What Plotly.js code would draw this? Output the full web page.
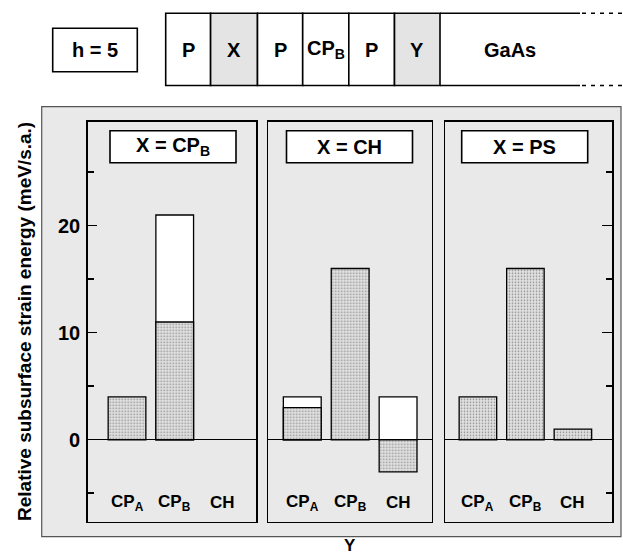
<!DOCTYPE html>
<html>
<head>
<meta charset="utf-8">
<script src="https://cdn.plot.ly/plotly-3.0.1.min.js"></script>
<style>html,body{margin:0;padding:0;background:#fff;}</style>
</head>
<body>
<div id="chart" style="width:623px;height:555px;"></div>
<script>
// ---- data ----
const categories = ['CP<sub>A</sub>', 'CP<sub>B</sub>', 'CH'];
const panelTitles = ['X = CP<sub>B</sub>', 'X = CH', 'X = PS'];
// shaded (grey) bars
const shadedCPB = [4, 11, null];
const shadedCH  = [3, 16, -3];
const shadedPS  = [4, 16, 1];
// open (white) bars behind the shaded ones
const openCPB = [null, 21, null];
const openCH  = [4, null, 4];
const openPS  = [null, null, null];
const yTickVals = [0, 10, 20];
const layerLabels = ['P', 'X', 'P', 'CP<sub>B</sub>', 'P', 'Y', 'GaAs'];
const layerShaded = [false, true, false, false, false, true, false];
const hLabel = 'h = 5';
const yTitle = 'Relative subsurface strain energy (meV/s.a.)';
const xTitle = 'Y';

// ---- geometry helpers ----
const W = 623, H = 555;
const px = x => x / W;
const py = y => 1 - y / H;
const FONT = 'Liberation Sans, Arial, Helvetica, sans-serif';
const bold = (size) => ({family: FONT, size: size, color: '#000', weight: 'bold'});

const shadeFill = '#d6d6d6';
const pattern = {shape: '.', fgcolor: '#8a8a8a', bgcolor: '#e2e2e2', size: 3, solidity: 0.25};

const panels = [
  {open: openCPB, shaded: shadedCPB, xa: 'x',  ya: 'y'},
  {open: openCH,  shaded: shadedCH,  xa: 'x2', ya: 'y2'},
  {open: openPS,  shaded: shadedPS,  xa: 'x3', ya: 'y3'}
];

const traces = [];
panels.forEach(p => {
  traces.push({type: 'bar', x: categories, y: p.open, xaxis: p.xa, yaxis: p.ya, width: 0.79,
    marker: {color: '#ffffff', line: {color: '#000', width: 1.3}}, hoverinfo: 'skip'});
  traces.push({type: 'bar', x: categories, y: p.shaded, xaxis: p.xa, yaxis: p.ya, width: 0.79,
    marker: {color: shadeFill, pattern: pattern, line: {color: '#000', width: 1.3}}, hoverinfo: 'skip'});
});

const yRange = [-7.66, 29.72];
const yDomain = [py(521.7), py(121.7)];
const xBase = {type: 'category', showticklabels: false, ticks: '', showgrid: false, zeroline: false,
  showline: true, mirror: true, linecolor: '#000', linewidth: 1.5, fixedrange: true};
const yBase = {range: yRange, domain: yDomain, showgrid: false, zeroline: true, zerolinecolor: '#000',
  zerolinewidth: 1.3, showline: true, mirror: true, linecolor: '#000', linewidth: 1.5, fixedrange: true};

const layout = {
  width: W, height: H, margin: {l: 0, r: 0, t: 0, b: 0},
  paper_bgcolor: '#fff', plot_bgcolor: '#fff', showlegend: false, barmode: 'overlay',
  xaxis:  Object.assign({}, xBase, {domain: [px(87.7), px(256.3)], range: [-0.824, 2.71], anchor: 'y'}),
  xaxis2: Object.assign({}, xBase, {domain: [px(268.3), px(431.9)], range: [-0.709, 2.706], anchor: 'y2'}),
  xaxis3: Object.assign({}, xBase, {domain: [px(445), px(612)], range: [-0.693, 2.823], anchor: 'y3'}),
  yaxis: Object.assign({}, yBase, {anchor: 'x', ticks: 'inside', ticklen: 9, tickwidth: 1.5, tickcolor: '#000',
    tickmode: 'array', tickvals: yTickVals, tickfont: bold(20), ticklabelstandoff: 2,
    minor: {tickmode: 'linear', tick0: -5, dtick: 5, ticks: 'inside', ticklen: 6, tickwidth: 1.5, tickcolor: '#000'}}),
  yaxis2: Object.assign({}, yBase, {anchor: 'x2', ticks: '', showticklabels: false}),
  yaxis3: Object.assign({}, yBase, {anchor: 'x3', side: 'right', ticks: 'inside', ticklen: 10, tickwidth: 1.5,
    tickcolor: '#000', tickmode: 'array', tickvals: yTickVals, showticklabels: false,
    minor: {tickmode: 'linear', tick0: -5, dtick: 5, ticks: 'inside', ticklen: 6, tickwidth: 1.5, tickcolor: '#000'}}),
  shapes: [],
  annotations: []
};

// grey background panel
layout.shapes.push({type: 'rect', xref: 'paper', yref: 'paper', layer: 'below',
  x0: px(41.7), x1: px(621), y0: py(536.7), y1: py(106.7),
  fillcolor: '#e9e9e9', line: {color: '#555', width: 1.2}});

// top layer diagram
const cellEdges = [165.7, 210.6, 257.5, 302.7, 348.8, 394.5, 440, 580];
const stripTop = 13.3, stripBot = 85.5;
for (let i = 0; i < layerLabels.length; i++) {
  const x0 = cellEdges[i], x1 = cellEdges[i + 1];
  if (i < layerLabels.length - 1) {
    layout.shapes.push({type: 'rect', xref: 'paper', yref: 'paper', x0: px(x0), x1: px(x1),
      y0: py(stripBot), y1: py(stripTop), fillcolor: layerShaded[i] ? '#e4e4e4' : '#fff',
      line: {color: '#000', width: 1.6}});
  }
  layout.annotations.push({xref: 'paper', yref: 'paper', x: px((x0 + x1) / 2), y: py(50),
    text: layerLabels[i], showarrow: false, font: bold(20), xanchor: 'center', yanchor: 'middle'});
}
// GaAs open cell: solid lines then dotted continuation
[stripTop, stripBot].forEach(yy => {
  layout.shapes.push({type: 'line', xref: 'paper', yref: 'paper', x0: px(440), x1: px(580),
    y0: py(yy), y1: py(yy), line: {color: '#000', width: 1.6}});
  layout.shapes.push({type: 'line', xref: 'paper', yref: 'paper', x0: px(582), x1: px(622),
    y0: py(yy), y1: py(yy), line: {color: '#000', width: 1.6, dash: '4px,5px'}});
});
// h = 5 box
layout.shapes.push({type: 'rect', xref: 'paper', yref: 'paper', x0: px(52.7), x1: px(137.3),
  y0: py(71.7), y1: py(28.3), fillcolor: '#fff', line: {color: '#000', width: 1.6}});
layout.annotations.push({xref: 'paper', yref: 'paper', x: px(95), y: py(50), text: hLabel,
  showarrow: false, font: bold(20), xanchor: 'center', yanchor: 'middle'});

// panel title boxes
const titleCenters = [173, 349.5, 524.7];
panelTitles.forEach((t, i) => {
  layout.shapes.push({type: 'rect', xref: 'paper', yref: 'paper', x0: px(titleCenters[i] - 63),
    x1: px(titleCenters[i] + 63), y0: py(162.7), y1: py(130.7), fillcolor: '#fff',
    line: {color: '#000', width: 1.6}});
  layout.annotations.push({xref: 'paper', yref: 'paper', x: px(titleCenters[i]), y: py(146.7),
    text: t, showarrow: false, font: bold(20), xanchor: 'center', yanchor: 'middle'});
});

// category labels inside each panel
panels.forEach(p => {
  categories.forEach(c => {
    layout.annotations.push({xref: p.xa, yref: p.ya, x: c, y: -5.9, text: c, showarrow: false,
      font: bold(17), xanchor: 'center', yanchor: 'middle'});
  });
});

// axis titles
layout.annotations.push({xref: 'paper', yref: 'paper', x: px(24), y: py(322), text: yTitle,
  textangle: -90, showarrow: false, font: bold(19), xanchor: 'center', yanchor: 'middle'});
layout.annotations.push({xref: 'paper', yref: 'paper', x: px(350), y: py(545), text: xTitle,
  showarrow: false, font: bold(17), xanchor: 'center', yanchor: 'middle'});

Plotly.newPlot('chart', traces, layout, {staticPlot: true, displayModeBar: false});
</script>
</body>
</html>
